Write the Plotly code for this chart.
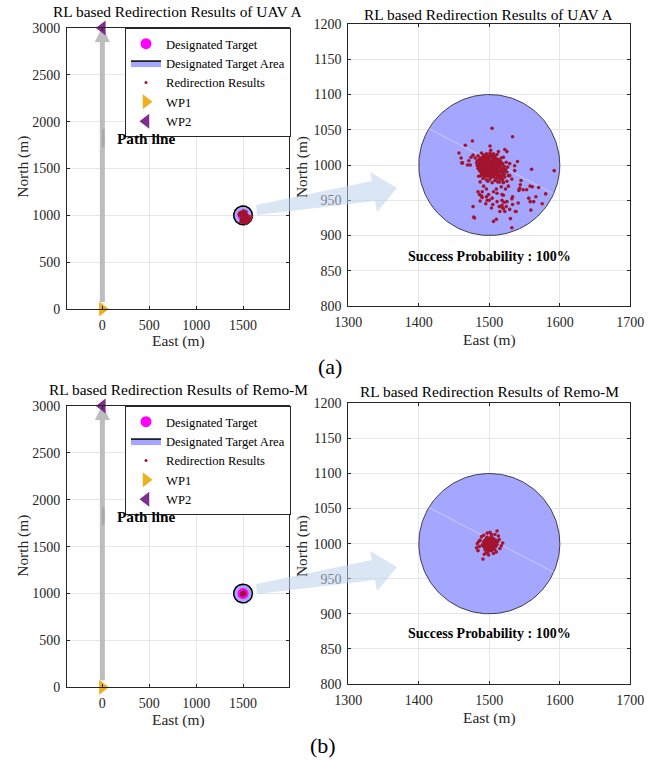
import numpy as np
import plotly.graph_objects as go

FONT = "Liberation Serif"
W, H = 660, 762

# ---------------- data ----------------
target_east, target_north = 1500, 1000
target_radius = 100
wp1 = (0, 0)
wp2 = (0, 3000)

uav_a_results = [
    # dense core
    (1498,1013),(1503,1014),(1494,1011),(1508,1012),(1489,1009),(1499,1009),(1505,1010),(1512,1008),(1485,1007),(1493,1006),
    (1497,1005),(1502,1006),(1507,1007),(1516,1005),(1482,1003),(1488,1003),(1491,1001),(1495,1002),(1500,1002),(1504,1003),
    (1509,1003),(1513,1001),(1519,1002),(1486,999),(1490,998),(1494,998),(1498,999),(1502,999),(1506,1000),(1510,998),
    (1515,997),(1521,998),(1484,995),(1489,994),(1493,995),(1497,995),(1501,996),(1505,996),(1508,994),(1512,994),
    (1517,993),(1523,994),(1487,991),(1492,991),(1496,992),(1500,992),(1504,991),(1509,990),(1514,990),(1519,989),
    (1490,987),(1495,988),(1499,988),(1503,987),(1507,987),(1511,986),(1516,985),(1522,983),(1493,983),(1498,984),
    (1502,983),(1506,983),(1510,982),(1514,981),(1519,979),(1496,979),(1501,980),(1508,978),(1492,1014),(1496,1016),
    (1501,1017),(1506,1016),(1511,1015),(1480,1010),(1484,1013),(1517,1010),(1524,1004),(1526,997),(1525,990),(1527,985),
    (1499,994),(1503,993),(1497,1001),(1491,1005),(1506,1004),(1512,1005),(1500,1011),(1495,1008),(1510,996),(1504,1001),
    (1487,996),(1493,989),(1505,985),(1513,988),(1517,1000),(1483,999),(1509,979),(1515,976),(1520,975),(1488,985),
    (1491,1012),(1496,1013),(1501,1014),(1506,1013),(1487,1010),(1492,1009),(1497,1010),(1503,1011),(1509,1009),(1514,1007),
    (1483,1006),(1488,1006),(1495,1005),(1500,1005),(1505,1006),(1510,1006),(1515,1003),(1485,1002),(1490,1002),(1499,1002),
    (1507,1002),(1511,1001),(1516,1001),(1488,997),(1492,997),(1496,997),(1500,998),(1504,998),(1508,998),(1513,997),
    (1519,995),(1486,993),(1491,993),(1495,993),(1503,995),(1507,992),(1511,992),(1516,991),(1521,991),(1489,989),
    (1497,989),(1501,989),(1505,989),(1509,987),(1514,986),(1518,984),(1496,985),(1500,986),(1512,983),(1517,981),
    # scattered results
    (1504,1052),(1533,1040),(1476,1034),(1466,1028),(1457,1017),(1460,1010),(1462,1003),(1471,1006),(1469,1000),(1501,1027),
    (1502,1021),(1513,1019),(1522,1022),(1525,1019),(1489,1017),(1540,1005),(1560,994),(1592,992),(1536,992),(1545,978),
    (1544,972),(1543,967),(1542,964),(1548,965),(1553,965),(1558,970),(1561,969),(1570,968),(1580,959),(1556,953),
    (1566,955),(1563,948),(1575,945),(1559,936),(1541,946),(1538,934),(1558,948),(1533,955),(1521,947),(1524,941),
    (1518,940),(1529,937),(1505,944),(1497,950),(1490,954),(1477,941),(1478,926),(1479,925),(1506,920),(1510,923),
    (1530,924),(1532,911),(1520,938),(1522,934),(1515,934),(1503,939),(1495,945),(1487,949),(1489,956),(1484,962),
    (1496,955),(1500,950),(1504,953),(1511,948),(1514,941),(1518,943),(1518,950),(1525,948),(1520,957),(1532,952),
    (1533,944),(1537,934),(1486,958),(1490,962),(1499,958),(1506,962),(1511,960),(1518,958),(1523,966),(1527,970),
    (1517,969),(1510,966),(1496,966),(1492,970),(1487,976),(1485,984),(1473,1000),(1461,1003),(1474,1011),(1477,1014),
    (1520,1011),(1529,1002),(1536,999),(1529,985),(1525,977),(1532,980),(1515,983),(1521,987),(1512,976),(1504,975),
    (1498,977),(1491,981),(1493,985),
]

remo_m_results = [
    # dense core
    (1500,999),(1497,1001),(1503,1001),(1494,999),(1506,998),(1499,1004),(1502,995),(1496,996),(1504,1005),(1498,993),
    (1492,1002),(1508,1002),(1501,1007),(1495,1006),(1505,992),(1493,995),(1509,996),(1500,990),(1497,1009),(1503,1010),
    (1490,998),(1511,999),(1506,1007),(1494,991),(1508,991),(1498,997),(1502,1002),(1500,1003),(1496,1003),(1504,997),
    (1499,1001),(1501,998),(1497,998),(1503,999),(1500,996),(1500,1001),(1495,1001),(1505,1001),(1498,1006),(1502,1008),
    (1507,995),(1493,1004),(1509,1005),(1496,993),(1503,990),
    (1498,1000),(1502,1000),(1499,1003),(1501,1005),(1495,1003),(1505,1003),(1497,995),(1503,996),(1499,992),(1506,1000),
    (1493,1000),(1501,994),(1504,1008),(1496,1008),(1507,1004),(1494,997),(1509,999),(1498,989),(1502,991),(1492,996),
    # scattered results
    (1491,978),(1483,1000),(1482,994),(1511,1018),(1501,1016),(1497,1015),(1517,997),(1514,1006),(1506,986),(1484,990),
    (1489,1010),(1487,1005),(1513,1011),(1515,993),(1493,985),(1508,1013),(1486,996),(1510,988),(1492,1012),(1499,984),
    (1519,1001),(1485,1003),(1512,1003),(1496,987),(1503,1013),
]

titles = ["RL based Redirection Results of UAV A", "RL based Redirection Results of Remo-M"]
success_text = "Success Probability : 100%"
overview_xticks = [0, 500, 1000, 1500]
overview_yticks = [0, 500, 1000, 1500, 2000, 2500, 3000]
zoom_xticks = [1300, 1400, 1500, 1600, 1700]
zoom_yticks = [800, 850, 900, 950, 1000, 1050, 1100, 1150, 1200]
overview_xrange = [-377, 1990]
overview_yrange = [0, 3000]
zoom_xrange = [1300, 1700]
zoom_yrange = [800, 1200]

# ---------------- styles ----------------
C_AREA = "rgb(165,166,255)"
C_RED = "#A2142F"
C_MAG = "#FF00FF"
C_WP1 = "#EDB120"
C_WP2 = "#7E2F8E"
C_AX = "#262626"
C_GRID = "#e6e6e6"
C_PATH = "#bdbdbd"


def px_x(px):
    return px / W


def px_y(py):
    return 1 - py / H


# axis frames in pixels: (left, right, top, bottom)
frames = {
    1: (67, 289, 28, 309),
    2: (348.3, 630.3, 24, 306),
    3: (67, 289, 406, 687.3),
    4: (348.3, 630.3, 403.3, 684),
}

theta = np.linspace(0, 2 * np.pi, 241)
circ_x = target_east + target_radius * np.cos(theta)
circ_y = target_north + target_radius * np.sin(theta)
chord_ang = np.radians([149, -24])
chord_x = target_east + target_radius * np.cos(chord_ang)
chord_y = target_north + target_radius * np.sin(chord_ang)

fig = go.Figure()

rows = [
    (uav_a_results, "legend", 1, 2),
    (remo_m_results, "legend2", 3, 4),
]

for results, leg, ov, zm in rows:
    ex = [p[0] for p in results]
    ny = [p[1] for p in results]
    xa, ya = ("x" if ov == 1 else f"x{ov}"), ("y" if ov == 1 else f"y{ov}")
    # overview panel
    fig.add_trace(go.Scatter(x=circ_x, y=circ_y, mode="lines", fill="toself", fillcolor=C_AREA,
                             line=dict(color="black", width=1.5), name="Designated Target Area",
                             legend=leg, legendrank=2, xaxis=xa, yaxis=ya, hoverinfo="skip"))
    fig.add_trace(go.Scatter(x=[target_east], y=[target_north], mode="markers",
                             marker=dict(symbol="circle", size=11, color=C_MAG),
                             name="Designated Target", legend=leg, legendrank=1, xaxis=xa, yaxis=ya))
    fig.add_trace(go.Scatter(x=ex, y=ny, mode="markers", marker=dict(size=3, color=C_RED),
                             name="Redirection Results", legend=leg, legendrank=3, xaxis=xa, yaxis=ya))
    fig.add_trace(go.Scatter(x=[wp1[0]], y=[wp1[1]], mode="markers", cliponaxis=False,
                             marker=dict(symbol="triangle-right", size=13, color=C_WP1),
                             name="WP1", legend=leg, legendrank=4, xaxis=xa, yaxis=ya))
    fig.add_trace(go.Scatter(x=[wp2[0]], y=[wp2[1]], mode="markers", cliponaxis=False,
                             marker=dict(symbol="triangle-left", size=13, color=C_WP2),
                             name="WP2", legend=leg, legendrank=5, xaxis=xa, yaxis=ya))
    # zoom panel
    xb, yb = f"x{zm}", f"y{zm}"
    fig.add_trace(go.Scatter(x=circ_x, y=circ_y, mode="lines", fill="toself", fillcolor=C_AREA,
                             line=dict(color="#3c3c4a", width=1), showlegend=False,
                             xaxis=xb, yaxis=yb, hoverinfo="skip"))
    fig.add_trace(go.Scatter(x=chord_x, y=chord_y, mode="lines",
                             line=dict(color="rgba(255,255,255,0.4)", width=1), showlegend=False,
                             xaxis=xb, yaxis=yb, hoverinfo="skip"))
    fig.add_trace(go.Scatter(x=ex, y=ny, mode="markers", marker=dict(size=3.6, color=C_RED),
                             showlegend=False, xaxis=xb, yaxis=yb))


def axis(dom, rng, ticks, anchor):
    return dict(domain=dom, range=rng, tickvals=ticks, anchor=anchor, automargin=False,
                showline=True, linecolor=C_AX, linewidth=1, mirror="ticks",
                ticks="inside", ticklen=3, tickcolor=C_AX,
                showgrid=True, gridcolor=C_GRID, gridwidth=1, zeroline=False,
                tickfont=dict(family=FONT, size=14, color=C_AX), fixedrange=True,
                ticklabelstandoff=3)


layout = {}
for k, (l, r, t, b) in frames.items():
    xd = [px_x(l), px_x(r)]
    yd = [px_y(b), px_y(t)]
    xk = "xaxis" if k == 1 else f"xaxis{k}"
    yk = "yaxis" if k == 1 else f"yaxis{k}"
    xa = "x" if k == 1 else f"x{k}"
    ya = "y" if k == 1 else f"y{k}"
    if k in (1, 3):
        layout[xk] = axis(xd, overview_xrange, overview_xticks, ya)
        layout[yk] = axis(yd, overview_yrange, overview_yticks, xa)
    else:
        layout[xk] = axis(xd, zoom_xrange, zoom_xticks, ya)
        layout[yk] = axis(yd, zoom_yrange, zoom_yticks, xa)

ann = []


def txt(text, px, py, size, color="black", angle=0):
    ann.append(dict(text=text, x=px_x(px), y=px_y(py), xref="paper", yref="paper",
                    xanchor="center", yanchor="middle", showarrow=False, textangle=angle,
                    font=dict(family=FONT, size=size, color=color)))


txt(titles[0], 177, 11, 15.4)
txt(titles[0], 488, 14, 15.4)
txt(titles[1], 178, 389, 15.4)
txt(titles[1], 489, 391, 15.4)
for py in (167, 546):
    txt("North (m)", 22.7, py, 15.4, C_AX, -90)
    txt("North (m)", 302, py, 15.4, C_AX, -90)
txt("East (m)", 178, 341, 15.4, C_AX)
txt("East (m)", 489, 340, 15.4, C_AX)
txt("East (m)", 178, 720, 15.4, C_AX)
txt("East (m)", 489, 718, 15.4, C_AX)
txt("(a)", 330, 367, 22)
txt("(b)", 323, 745, 22)

for ov, zm, pl_y, sp_y in ((1, 2, 1825, 870), (3, 4, 1820, 872)):
    xa = "x" if ov == 1 else f"x{ov}"
    ya = "y" if ov == 1 else f"y{ov}"
    ann.append(dict(text="<b>Path line</b>", x=470, y=pl_y, xref=xa, yref=ya, showarrow=False,
                    xanchor="center", yanchor="middle",
                    font=dict(family=FONT, size=15.3, color="black")))
    ann.append(dict(text="<b>" + success_text + "</b>", x=target_east, y=sp_y, xref=f"x{zm}", yref=f"y{zm}",
                    showarrow=False, xanchor="center", yanchor="middle",
                    font=dict(family=FONT, size=14, color="black")))

shapes = []
for ov in (1, 3):
    xa = "x" if ov == 1 else f"x{ov}"
    ya = "y" if ov == 1 else f"y{ov}"
    head_base = wp2[1] - 150
    shapes.append(dict(type="line", xref=xa, yref=ya, x0=wp1[0], y0=wp1[1] + 75, x1=wp2[0], y1=head_base,
                       line=dict(color=C_PATH, width=5), layer="between"))
    shapes.append(dict(type="path", xref=xa, yref=ya,
                       path=f"M {wp2[0]-80},{head_base} L {wp2[0]+80},{head_base} L {wp2[0]},{wp2[1]+15} Z",
                       fillcolor=C_PATH, line=dict(width=0), layer="between"))
    shapes.append(dict(type="line", xref=xa, yref=ya, x0=wp1[0] + 10, y0=1730, x1=wp1[0] + 10, y1=1920,
                       line=dict(color="#a8a8a8", width=2.5), layer="between"))

# big light-blue pointer arrows between panels (pixel outline)
arrow_px = [(256, 205), (372, 181), (370, 172), (397, 188), (377, 212), (375, 201), (257, 215)]
for dy in (0, 379):
    pts = [(px_x(x), px_y(y + dy)) for x, y in arrow_px]
    path = "M " + " L ".join(f"{a:.5f},{b:.5f}" for a, b in pts) + " Z"
    shapes.append(dict(type="path", xref="paper", yref="paper", path=path,
                       fillcolor="rgba(190,210,236,0.55)", line=dict(width=0), layer="above"))

legend_common = dict(xanchor="left", yanchor="top", bgcolor="white", bordercolor=C_AX, borderwidth=1,
                     font=dict(family=FONT, size=12.6, color="black"), tracegroupgap=0)

fig.update_layout(
    width=W, height=H, margin=dict(l=0, r=0, t=0, b=0, autoexpand=False),
    paper_bgcolor="white", plot_bgcolor="white",
    showlegend=True,
    legend=dict(x=px_x(125), y=px_y(28), **legend_common),
    legend2=dict(x=px_x(125), y=px_y(406), **legend_common),
    annotations=ann, shapes=shapes,
    **layout,
)

# remove the browser's default 8px page margin so the figure fills the window exactly
fig.write_html("out.html", config={"displayModeBar": False},
               post_script="document.body.style.margin='0';document.body.style.overflow='hidden';")
